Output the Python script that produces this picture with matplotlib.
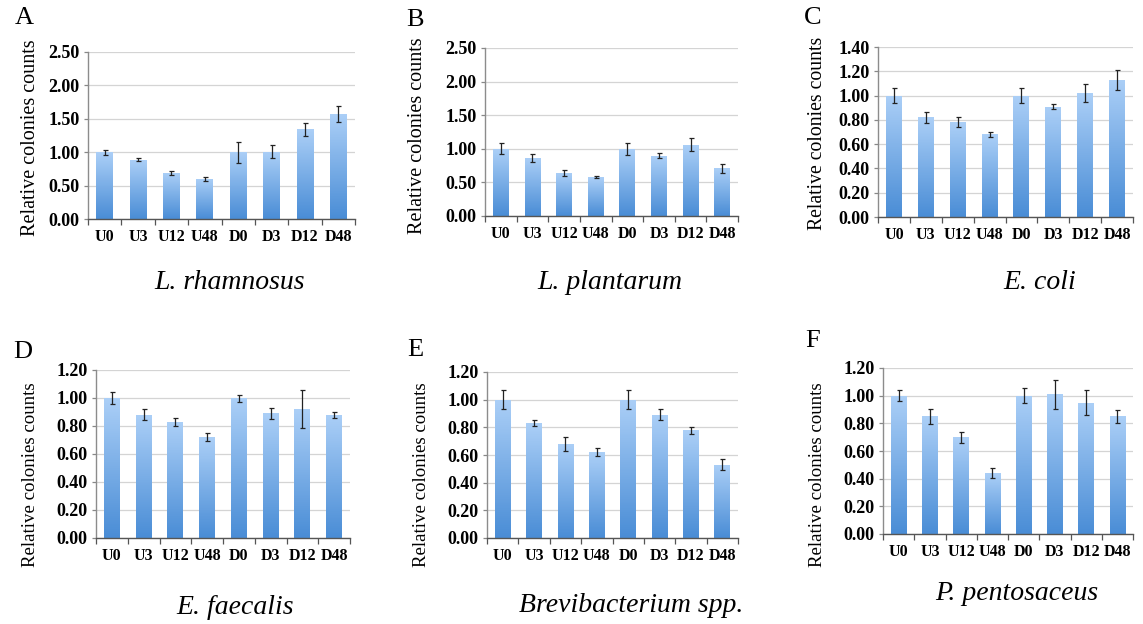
"""Relative colony counts for six strains, Excel-style gradient bars."""

import numpy as np
import matplotlib

matplotlib.use("Agg")
import matplotlib.pyplot as plt
from matplotlib.colors import LinearSegmentedColormap

# data -----------------------------------------------------------------
groups = ["U0", "U3", "U12", "U48", "D0", "D3", "D12", "D48"]

a_vals = [1.00, 0.89, 0.69, 0.60, 1.00, 1.01, 1.34, 1.57]
a_err = [0.04, 0.02, 0.03, 0.03, 0.155, 0.10, 0.10, 0.115]
b_vals = [1.00, 0.87, 0.64, 0.58, 1.00, 0.90, 1.06, 0.71]
b_err = [0.08, 0.06, 0.04, 0.02, 0.09, 0.04, 0.10, 0.07]
c_vals = [1.00, 0.82, 0.78, 0.68, 1.00, 0.91, 1.02, 1.13]
c_err = [0.065, 0.045, 0.04, 0.02, 0.06, 0.02, 0.075, 0.08]
d_vals = [1.00, 0.88, 0.83, 0.72, 1.00, 0.89, 0.92, 0.88]
d_err = [0.04, 0.04, 0.03, 0.03, 0.025, 0.04, 0.135, 0.02]
e_vals = [1.00, 0.83, 0.68, 0.62, 1.00, 0.89, 0.78, 0.53]
e_err = [0.07, 0.02, 0.05, 0.03, 0.07, 0.04, 0.025, 0.04]
f_vals = [1.00, 0.85, 0.70, 0.44, 1.00, 1.01, 0.95, 0.85]
f_err = [0.04, 0.055, 0.04, 0.035, 0.055, 0.105, 0.09, 0.05]

letters = ["A", "B", "C", "D", "E", "F"]
species = ["L. rhamnosus", "L. plantarum", "E. coli",
           "E. faecalis", "Brevibacterium spp.", "P. pentosaceus"]
ymax = [2.5, 2.5, 1.4, 1.2, 1.2, 1.2]
ystep = [0.5, 0.5, 0.2, 0.2, 0.2, 0.2]
values = [a_vals, b_vals, c_vals, d_vals, e_vals, f_vals]
errors = [a_err, b_err, c_err, d_err, e_err, f_err]

# layout (pixels in a 1143x624 canvas) ---------------------------------
W, H = 1143, 624
boxes = [  # left, right, top, bottom
    (88, 355, 52, 219),
    (485, 738, 48, 216),
    (878, 1133, 47, 217),
    (96, 350, 370, 538),
    (487, 738, 372, 538),
    (883, 1133, 368, 534),
]
letter_pos = [(24, 18), (415, 20), (813, 18), (23, 352), (415, 350), (813, 341)]
title_pos = [(230, 283), (610, 283), (1040, 283), (235, 608), (631, 606), (1017, 593)]
ylabel_pos = [(31, 138), (418, 136), (817, 133), (31, 475), (421, 475), (818, 475)]
ylabel_size = [14.5, 14.5, 14.2, 13.6, 13.6, 13.6]

serif = ["Liberation Serif", "DejaVu Serif"]
plt.rcParams["font.family"] = serif

cmap = LinearSegmentedColormap.from_list("bar", ["#4a8dd6", "#abcff7"])
grad = np.linspace(0, 1, 64).reshape(-1, 1)

fig = plt.figure(figsize=(W / 100, H / 100), dpi=100)

for k in range(6):
    l, r, t, b = boxes[k]
    ax = fig.add_axes([l / W, 1 - b / H, (r - l) / W, (b - t) / H])
    x = np.arange(len(groups))
    bars = ax.bar(x, values[k], width=0.5, color="none", zorder=2)
    for bar in bars:
        x0 = bar.get_x()
        im = ax.imshow(grad, extent=[x0, x0 + bar.get_width(), 0, bar.get_height()],
                       origin="lower", aspect="auto", cmap=cmap, zorder=2)
        im.set_clip_path(bar)
    ax.errorbar(x, values[k], yerr=errors[k], fmt="none", ecolor="#222222",
                elinewidth=0.9, capsize=1.8, capthick=0.9, zorder=3)

    ax.set_xlim(-0.5, len(groups) - 0.5)
    ax.set_ylim(0, ymax[k])
    yt = np.arange(0, ymax[k] + 1e-6, ystep[k])
    ax.set_yticks(yt)
    ax.set_yticklabels([f"{v:.2f}" for v in yt], fontweight="bold", fontsize=13)
    ax.yaxis.grid(True, color="#d4d4d4", linewidth=0.9)
    ax.set_axisbelow(True)

    ax.set_xticks(x)
    ax.set_xticklabels(groups, fontweight="bold", fontsize=11.5)
    ax.set_xticks(np.arange(-0.5, len(groups)), minor=True)
    ax.tick_params(axis="x", which="major", length=0, pad=7)
    ax.tick_params(axis="x", which="minor", length=4, width=0.9, color="#555555")
    ax.tick_params(axis="y", length=3, width=0.9, color="#888888", pad=3)

    for s in ("top", "right"):
        ax.spines[s].set_visible(False)
    ax.spines["left"].set_color("#8c8c8c")
    ax.spines["bottom"].set_color("#555555")
    ax.spines["left"].set_linewidth(1.0)
    ax.spines["bottom"].set_linewidth(1.0)

    ax.set_ylabel("Relative colonies counts", fontsize=ylabel_size[k])
    px, py = ylabel_pos[k]
    ax.yaxis.set_label_coords(px / W, 1 - py / H, transform=fig.transFigure)
    ax.yaxis.label.set_va("center")

    lx, ly = letter_pos[k]
    fig.text(lx / W, 1 - ly / H, letters[k], fontsize=19, ha="center", va="center")
    tx, ty = title_pos[k]
    fig.text(tx / W, 1 - ty / H, species[k], fontsize=20, style="italic",
             ha="center", va="center")

fig.savefig("out.png", dpi=100)
